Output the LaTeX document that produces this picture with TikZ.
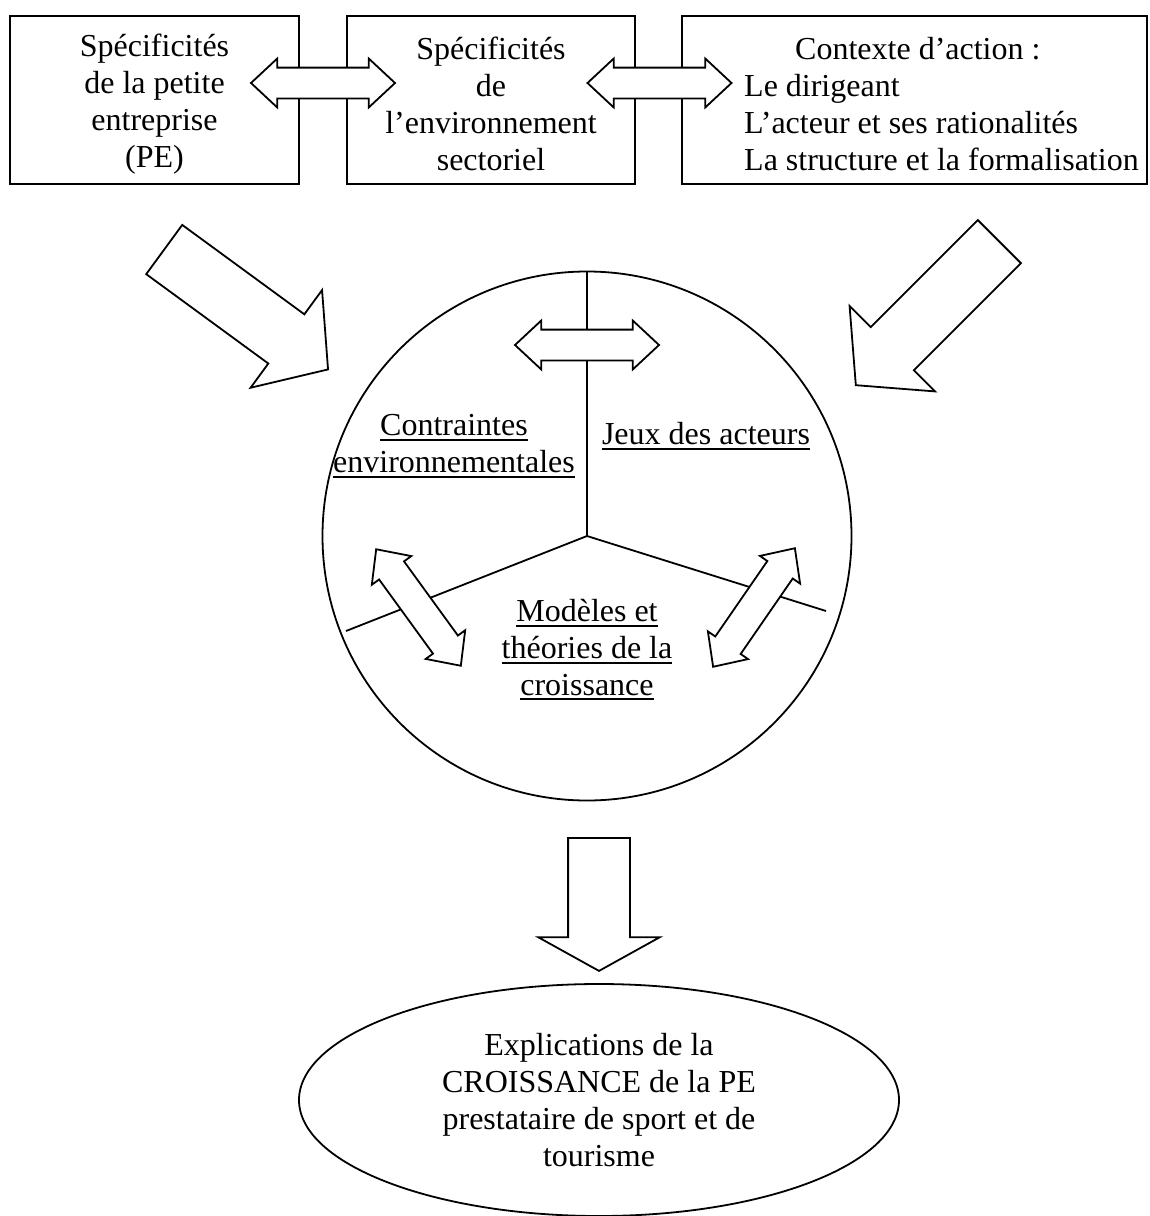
\documentclass[tikz,border=0pt]{standalone}
\usepackage{fontspec}
\setmainfont{Liberation Serif}
\usetikzlibrary{shapes.geometric,shapes.arrows}
% underline drawn as a fixed-depth rule below the baseline
\newcommand{\ulw}[1]{\setbox0=\hbox{#1}\rlap{\rule[-5pt]{\wd0}{2pt}}\box0}

\begin{document}
\begin{tikzpicture}[x=1pt,y=-1pt,
  every node/.style={font=\fontsize{32}{36.8}\selectfont, inner sep=0pt},
  ln/.style={line width=1.8pt},
  box/.style={draw, ln, minimum height=168pt},
  boxtext/.style={align=center},
  dbl/.style={double arrow, draw, ln, fill=white, minimum height=144pt,
    inner xsep=0pt, inner ysep=14.5pt, double arrow head extend=9pt,
    double arrow tip angle=86},
  bigarrow/.style={single arrow, draw, ln, fill=white, minimum height=203pt,
    inner xsep=0pt, inner ysep=29.6pt, single arrow head extend=30pt,
    single arrow tip angle=99, anchor=tail},
]
\useasboundingbox (0,0) rectangle (1150,1216);
\fill[white] (0,0) rectangle (1150,1216);

% top row of boxes
\node[box, minimum width=289pt] (b1) at (154.5,100) {};
\node[box, minimum width=288pt] (b2) at (491,100) {};
\node[box, minimum width=465pt] (b3) at (914.5,100) {};
\node[boxtext] (b1t) at (154.5,104) {Spécificités\\de la petite\\entreprise\\(PE)};
\node[boxtext] (b2t) at (491,104) {Spécificités\\de\\l’environnement\\sectoriel};
\node[anchor=west, align=left] (b3t) at (744,104) {\hspace*{51pt}Contexte d’action :\\Le dirigeant\\L’acteur et ses rationalités\\La structure et la formalisation};

% links between the boxes
\node[dbl] (a12) at (323,83) {};
\node[dbl] (a23) at (659.5,83) {};

% central circle and its three sectors
\node[circle, draw, ln, minimum size=529pt] (circ) at (587,536) {};
\coordinate (sl) at (346,631);
\coordinate (sr) at (826,611);
\draw[ln] (circ.north) -- (circ.center);
\draw[ln] (circ.center) -- (sl);
\draw[ln] (circ.center) -- (sr);

\node[dbl] (ah) at (587,345) {};
\node[dbl, rotate=126] (al) at (418.5,607.5) {};
\node[dbl, rotate=55.4] (ar) at (754,607.5) {};

\node[align=center] (t1) at (454,446) {\ulw{Contraintes}\\\ulw{environnementales}};
\node (t2) at (706,436) {\ulw{Jeux des acteurs}};
\node[align=center] (t3) at (587,650) {\ulw{Modèles et}\\\ulw{théories de la}\\\ulw{croissance}};

% inputs into the circle
\node[bigarrow, rotate=-36.2] (bl) at (163.5,249) {};
\node[bigarrow, rotate=-135] (br) at (1000,241) {};

% output arrow and result
\node[single arrow, draw, ln, fill=white, minimum height=133pt, inner xsep=0pt,
  inner ysep=30pt, single arrow head extend=30pt, single arrow tip angle=122,
  rotate=-90, anchor=tail] (ad) at (599,837) {};
\node[ellipse, draw, ln, minimum width=600pt, minimum height=232pt, align=center] (ell)
  at (599,1100) {Explications de la\\CROISSANCE de la PE\\prestataire de sport et de\\tourisme};
\end{tikzpicture}
\end{document}
